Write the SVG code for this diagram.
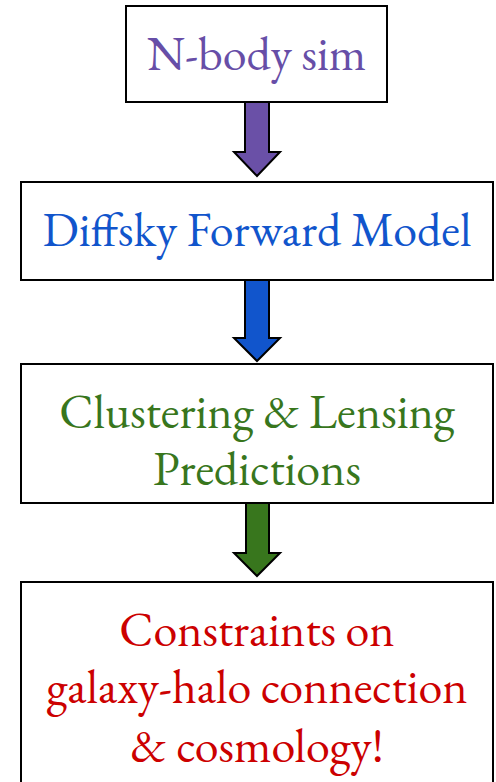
<svg xmlns="http://www.w3.org/2000/svg" width="496" height="782" viewBox="0 0 496 782">
  <style>
    .box { fill: #ffffff; stroke: #000000; stroke-width: 2; }
    .lbl { font-family: "EB Garamond", "Liberation Serif", "DejaVu Serif", serif; font-size: 48px; text-anchor: middle; }
    .arrow { stroke: #000000; stroke-width: 2; stroke-linejoin: miter; }
  </style>
  <rect width="496" height="782" fill="#ffffff"/>

  <g id="connectors">
    <path class="arrow" fill="#6a50a7" d="M245,102 H269 V152 H280 L257,176 L234,152 H245 Z"/>
    <path class="arrow" fill="#1155cc" d="M245,280 H269 V338 H280 L257,361 L234,338 H245 Z"/>
    <path class="arrow" fill="#38761d" d="M246,503 H269 V553 H280 L257,576 L234,553 H246 Z"/>
  </g>

  <g id="nbody">
    <rect class="box" x="126" y="6" width="261" height="96"/>
    <text class="lbl" x="256.5" y="70" fill="#674ea7">N-body sim</text>
  </g>

  <g id="diffsky">
    <rect class="box" x="21" y="182" width="472" height="98"/>
    <text class="lbl" x="257" y="246" fill="#1155cc">Diffsky Forward Model</text>
  </g>

  <g id="predictions">
    <rect class="box" x="21" y="364" width="472" height="139"/>
    <text class="lbl" x="257" y="428" fill="#38761d">Clustering &amp; Lensing</text>
    <text class="lbl" x="257" y="485" fill="#38761d">Predictions</text>
  </g>

  <g id="constraints">
    <rect class="box" x="21" y="582" width="472" height="210"/>
    <text class="lbl" x="257" y="646" fill="#cc0000">Constraints on</text>
    <text class="lbl" x="257" y="703" fill="#cc0000">galaxy-halo connection</text>
    <text class="lbl" x="257" y="762" fill="#cc0000">&amp; cosmology!</text>
  </g>
</svg>
